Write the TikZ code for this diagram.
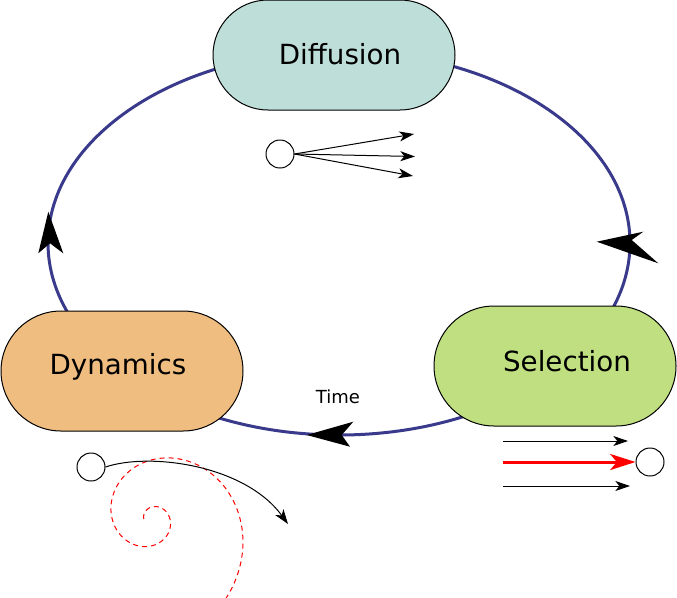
\documentclass[tikz,border=0pt]{standalone}
\usepackage{fontspec}
\setmainfont{DejaVu Sans}
\usepackage{xcolor}
\definecolor{cycleblue}{HTML}{3A3A8C}
\definecolor{diffcol}{HTML}{BEDFD9}
\definecolor{selcol}{HTML}{BFDF80}
\definecolor{dyncol}{HTML}{EFBD80}
\usepackage{tikz}
\usetikzlibrary{positioning,arrows.meta,shapes.misc}
\tikzset{
  phase/.style  ={rounded rectangle, draw=black, line width=0.75pt, inner sep=0pt,
                  minimum width=181.5pt, minimum height=90pt},
  phlabel/.style={font=\fontsize{20.8}{25}\selectfont, inner sep=0pt},
  particle/.style={circle, draw=black, fill=white, line width=0.75pt,
                  minimum size=21pt, inner sep=0pt},
  cyc/.style    ={draw=cycleblue, line width=2.25pt},
  bighead/.style={fill=black},
  thin/.style   ={-{Stealth[length=11pt, width=7.5pt, inset=3pt]}, line width=0.75pt},
  redarr/.style ={-{Stealth[length=19pt, width=12pt, inset=5pt]}, draw=red, line width=2.25pt},
  spiral/.style ={draw=red, line width=0.75pt, dash pattern=on 3.75pt off 3pt},
}

\begin{document}
\begin{tikzpicture}[x=0.75pt, y=-0.75pt]
  \useasboundingbox (0,0) rectangle (677,597);
  % cycle
  \draw[cyc] (339,243) ellipse [x radius=291, y radius=192];
  \fill[bighead] (48.3,211.7) -- (38.3,253.3) -- (50,243.3) -- (63.3,253.3) -- cycle;
  \fill[bighead] (596.7,241.7) -- (643.3,231.7) -- (631.7,240) -- (658.3,263.3) -- cycle;
  \fill[bighead] (306.7,435) -- (353.3,421.7) -- (341.7,435) -- (350,446.7) -- cycle;
  % phases
  \node[phase, fill=diffcol, minimum width=242pt*0.75, minimum height=82.5pt] (diffusion) at (334,55) {};
  \node[phase, fill=selcol] (selection) at (555,366) {};
  \node[phase, fill=dyncol] (dynamics) at (122,371) {};
  \node[phlabel] at (340,54.5) {Diffusion};
  \node[phlabel] at (567,361) {Selection};
  \node[phlabel] at (118,366.5) {Dynamics};
  \node[font=\fontsize{13.5}{16}\selectfont, inner sep=0pt] (time) at (338,397) {Time};
  % diffusion particle
  \node[particle] (diffcirc) at (280,154) {};
  \coordinate (d1) at (414,134);
  \coordinate (d2) at (415,156.5);
  \coordinate (d3) at (413,176);
  \foreach \d in {d1,d2,d3}
    \draw[thin] (diffcirc.east) -- (\d);
  % selection particle
  \node[particle] (selcirc) at (650,462) {};
  \coordinate (s1) at (503,441);
  \coordinate (s2) at (503,462);
  \coordinate (s3) at (503,486);
  \coordinate (s1e) at (628,441);
  \coordinate (s3e) at (630,486);
  \draw[thin] (s1) -- (s1e);
  \draw[redarr] (s2) -- (selcirc.west);
  \draw[thin] (s3) -- (s3e);
  % dynamics particle
  \draw[spiral] plot[domain=-180:408, samples=240, smooth]
    ({152+39.8*exp(0.3975*(\x-180)/90)*cos(\x)}, {519+39.8*exp(0.3975*(\x-180)/90)*sin(\x)});
  \node[particle] (dyncirc) at (91,467) {};
  \coordinate (dynend) at (288,524);
  \draw[thin] (dyncirc.east) .. controls (150,452) and (245,465) .. (dynend);
\end{tikzpicture}
\end{document}
